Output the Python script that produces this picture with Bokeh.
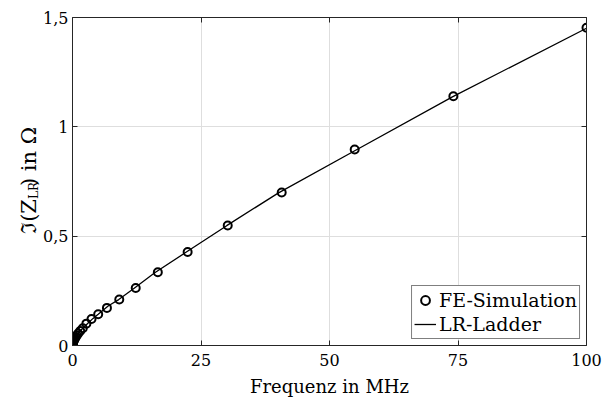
import math
from bokeh.plotting import figure
from bokeh.layouts import row
from bokeh.models import Range1d, LinearAxis, FixedTicker
from bokeh.core.properties import value
from bokeh.embed import file_html
from bokeh.resources import INLINE

# FE simulation points (frequency in MHz, Im(Z) in Ohm)
fe_freq = [100, 74.1, 54.9, 40.7, 30.2, 22.4, 16.6, 12.3, 9.1, 6.7, 5.0, 3.7, 2.7,
           2.0, 1.5, 1.1, 0.82, 0.61, 0.45, 0.33, 0.25, 0.18, 0.14, 0.10, 0.074,
           0.055, 0.041, 0.030, 0.022, 0.017, 0.012, 0.009, 0.007, 0.005]
fe_imag = [1.453, 1.140, 0.896, 0.700, 0.549, 0.428, 0.335, 0.263, 0.210, 0.172,
           0.143, 0.121, 0.100, 0.079, 0.066, 0.055, 0.046, 0.038, 0.032, 0.027,
           0.023, 0.019, 0.017, 0.014, 0.012, 0.0105, 0.009, 0.0077, 0.0066,
           0.0058, 0.0049, 0.0042, 0.0037, 0.0031]

# LR ladder model curve
lr_freq = [0, 0.005, 0.01, 0.02, 0.05, 0.1, 0.2, 0.3, 0.5, 0.75, 1, 1.5, 2, 3, 4,
           5, 7, 9, 12, 16, 22, 30, 40, 55, 74, 100]
lr_imag = [0, 0.003, 0.0042, 0.006, 0.0097, 0.014, 0.0205, 0.026, 0.034, 0.043,
           0.051, 0.066, 0.079, 0.102, 0.124, 0.143, 0.182, 0.210, 0.262, 0.333,
           0.425, 0.548, 0.697, 0.892, 1.138, 1.451]

x_ticks = [0, 25, 50, 75, 100]
x_tick_labels = ["0", "25", "50", "75", "100"]
y_ticks = [0, 0.5, 1, 1.5]
y_tick_labels = ["0", "0,5", "1", "1,5"]

x_label = "Frequenz in MHz"
y_label_parts = ["\u2111(Z", "LR", ") in \u03a9"]   # Im(Z_LR) in Ohm

FONT = "DejaVu Serif"
AX = "#262626"
W, H = 611, 401
LBL_W = 40

p = figure(width=W - LBL_W, height=H, output_backend="svg", toolbar_location=None,
           x_range=Range1d(0, 100), y_range=Range1d(0, 1.5),
           min_border_left=71 - LBL_W, min_border_right=25, min_border_top=17,
           min_border_bottom=56)
p.outline_line_color = None
p.background_fill_color = "white"
p.border_fill_color = "white"

def style_axis(ax, ticks, labels, show_labels=True):
    ax.ticker = FixedTicker(ticks=ticks)
    ax.major_label_overrides = {t: l for t, l in zip(ticks, labels)}
    ax.axis_line_color = AX
    ax.axis_line_width = 1
    ax.major_tick_line_color = AX
    ax.major_tick_in = 5
    ax.major_tick_out = 0
    ax.minor_tick_line_color = None
    ax.major_label_text_font = FONT
    ax.major_label_text_font_size = "16px" if show_labels else "0px"
    ax.major_label_text_color = "black" if show_labels else None

style_axis(p.xaxis[0], x_ticks, x_tick_labels)
style_axis(p.yaxis[0], y_ticks, y_tick_labels)
p.xaxis[0].major_label_standoff = 8
p.yaxis[0].major_label_standoff = 4
p.xaxis[0].axis_label = x_label
p.xaxis[0].axis_label_text_font = FONT
p.xaxis[0].axis_label_text_font_size = "18px"
p.xaxis[0].axis_label_text_font_style = "normal"
p.xaxis[0].axis_label_text_color = "black"
p.xaxis[0].axis_label_standoff = 7

top = LinearAxis()
style_axis(top, x_ticks, x_tick_labels, show_labels=False)
p.add_layout(top, "above")
right = LinearAxis()
style_axis(right, y_ticks, y_tick_labels, show_labels=False)
p.add_layout(right, "right")

p.xgrid.ticker = FixedTicker(ticks=x_ticks)
p.ygrid.ticker = FixedTicker(ticks=y_ticks)
for g in (p.xgrid, p.ygrid):
    g.grid_line_color = "#dedede"
    g.grid_line_width = 1

p.line(lr_freq, lr_imag, line_color="black", line_width=1.3, legend_label="LR-Ladder")
p.scatter(fe_freq, fe_imag, marker="circle", size=8, fill_color=None,
          line_color="black", line_width=2, legend_label="FE-Simulation")

# legend order: FE-Simulation first
items = p.legend[0].items
p.legend[0].items = [items[1], items[0]]
lg = p.legend[0]
lg.location = "bottom_right"
lg.margin = 6
lg.padding = 2
lg.spacing = 0
lg.glyph_width = 22
lg.glyph_height = 24
lg.label_height = 24
lg.label_standoff = 3
lg.label_text_font = FONT
lg.label_text_font_size = "19px"
lg.label_text_color = "black"
lg.border_line_color = "black"
lg.border_line_width = 1
lg.background_fill_alpha = 1

# narrow strip holding the rotated y-axis label (with subscript)
q = figure(width=LBL_W, height=H, output_backend="svg", toolbar_location=None,
           x_range=Range1d(0, LBL_W), y_range=Range1d(0, H),
           min_border_left=0, min_border_right=0, min_border_top=0,
           min_border_bottom=0, x_axis_location=None, y_axis_location=None)
q.outline_line_color = None
q.background_fill_color = "white"
q.border_fill_color = "white"
q.grid.visible = False

mid_x = 28
sub_y = H - 222
rot = dict(angle=math.pi / 2, text_baseline="middle", text_color="black",
           text_font=value(FONT))
q.text(x=[mid_x], y=[sub_y], text=[y_label_parts[0]], text_align="right",
       text_font_size=value("21px"), **rot)
q.text(x=[mid_x + 5], y=[sub_y], text=[y_label_parts[1]], text_align="left",
       text_font_size=value("12px"), **rot)
q.text(x=[mid_x], y=[sub_y + 16], text=[y_label_parts[2]], text_align="left",
       text_font_size=value("21px"), **rot)

layout = row(q, p, spacing=0)
open("out.html", "w").write(file_html(layout, INLINE))
